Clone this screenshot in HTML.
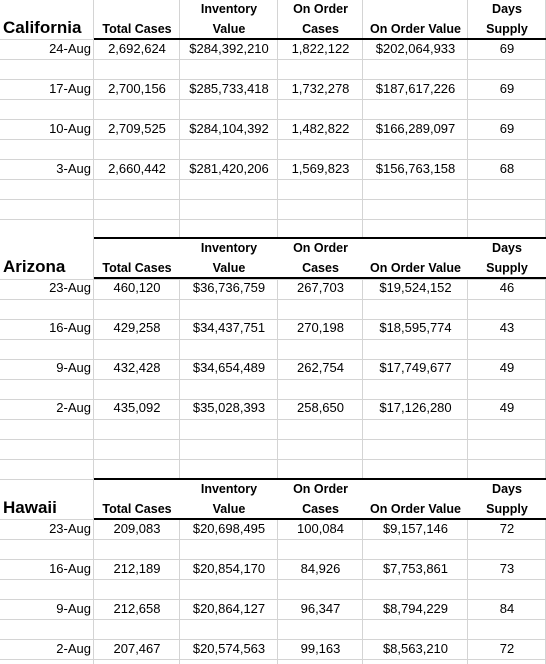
<!DOCTYPE html>
<html><head><meta charset="utf-8">
<style>
html,body{margin:0;padding:0;background:#fff;}
#sheet{position:relative;width:546px;height:664px;overflow:hidden;background:#fff;font-family:"Liberation Sans",Arial,sans-serif;color:#000;}
.h{position:absolute;left:0;width:546px;height:1px;background:#d4d4d4;}
.v{position:absolute;width:1px;background:#d4d4d4;}
.t{position:absolute;white-space:nowrap;font-size:13px;line-height:20px;height:20px;}
.hd{position:absolute;white-space:nowrap;font-size:12.5px;font-weight:bold;line-height:20px;text-align:center;}
.title{position:absolute;font-size:17px;font-weight:bold;line-height:20px;}
.wb{position:absolute;background:#fff;}
.thick{position:absolute;height:2px;background:#000;}
</style></head>
<body>
<div id="sheet"></div>
<script>
const colEdges=[0,94,180,278,363,468,546];
const regions=['California','Arizona','Hawaii'];
const headerTop=[-1,238,479];
const dates=[["24-Aug","17-Aug","10-Aug","3-Aug"],["23-Aug","16-Aug","9-Aug","2-Aug"],["23-Aug","16-Aug","9-Aug","2-Aug"]];
const totalCases=[["2,692,624","2,700,156","2,709,525","2,660,442"],["460,120","429,258","432,428","435,092"],["209,083","212,189","212,658","207,467"]];
const invValue=[["$284,392,210","$285,733,418","$284,104,392","$281,420,206"],["$36,736,759","$34,437,751","$34,654,489","$35,028,393"],["$20,698,495","$20,854,170","$20,864,127","$20,574,563"]];
const orderCases=[["1,822,122","1,732,278","1,482,822","1,569,823"],["267,703","270,198","262,754","258,650"],["100,084","84,926","96,347","99,163"]];
const orderValue=[["$202,064,933","$187,617,226","$166,289,097","$156,763,158"],["$19,524,152","$18,595,774","$17,749,677","$17,126,280"],["$9,157,146","$7,753,861","$8,794,229","$8,563,210"]];
const daysSupply=[["69","69","69","68"],["46","43","49","49"],["72","73","84","72"]];
const headers=[["","Total Cases"],["Inventory","Value"],["On Order","Cases"],["","On Order Value"],["Days","Supply"]];

const S=document.getElementById('sheet');
function add(cls,style,text){const d=document.createElement('div');d.className=cls;d.style.cssText=style;if(text!==undefined)d.textContent=text;S.appendChild(d);return d;}
for(let y=19;y<664;y+=20){const e=add('h','top:'+y+'px');

}
for(let i=1;i<colEdges.length;i++){const e=add('v','left:'+(colEdges[i]-1)+'px;top:0;height:664px');

}
regions.forEach((r,ri)=>{
  const top=headerTop[ri];
  const w=add('wb','left:94px;top:'+(top+1)+'px;width:452px;height:39px');
  
  
  const w0=add('wb','left:0;top:'+(top+1)+'px;width:93px;height:39px');
  
  
  if(ri===0){for(let i=2;i<colEdges.length;i++){const e=add('v','left:'+(colEdges[i]-1)+'px;top:0;height:40px');
    
    }}
  if(ri>0){const tt=add('thick','left:94px;width:452px;top:'+(top-1)+'px');
    
    }
  const tb=add('thick','left:94px;width:452px;top:'+(top+39)+'px');
  
  
  const ti=add('title','left:3px;top:'+(top+19)+'px',r);
  
  
  headers.forEach((h,hi)=>{
    const x=colEdges[hi+1],wd=colEdges[hi+2]-x;
    h.forEach((txt,li)=>{if(!txt)return;
      const e=add('hd','left:'+x+'px;width:'+wd+'px;top:'+(top+li*20)+'px',txt);
      
      });
  });
  const cols=[totalCases[ri],invValue[ri],orderCases[ri],orderValue[ri],daysSupply[ri]];
  for(let k=0;k<4;k++){
    const y=top+40+k*40;
    const d=add('t','left:0;width:91px;text-align:right;top:'+y+'px',dates[ri][k]);
    
    
    cols.forEach((c,ci)=>{
      const x=colEdges[ci+1],wd=colEdges[ci+2]-x;
      const e=add('t','left:'+x+'px;width:'+wd+'px;text-align:center;top:'+y+'px',c[k]);
      
      
    });
  }
});
</script>
</body></html>
